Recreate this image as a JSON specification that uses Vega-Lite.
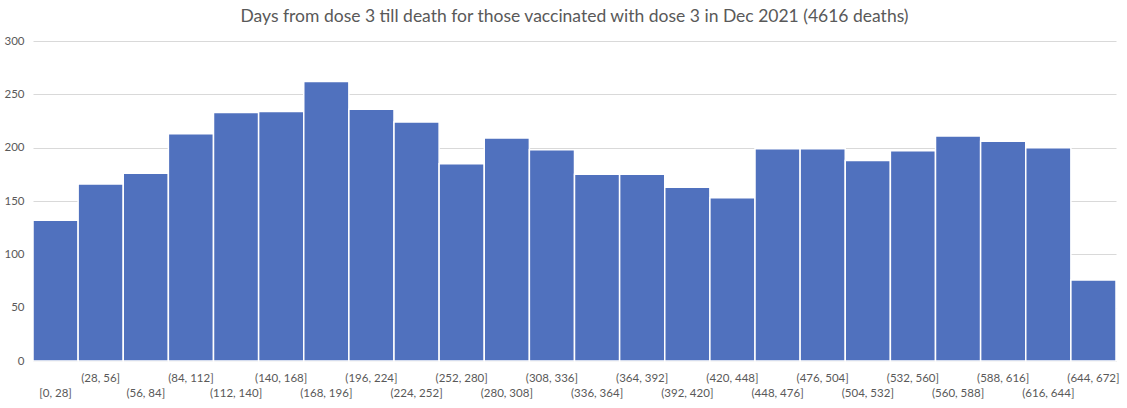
{
  "$schema": "https://vega.github.io/schema/vega-lite/v6.json",
  "autosize": {"type": "none"},
  "padding": {"left": 33, "top": 41, "right": 11, "bottom": 47},
  "width": 1083,
  "height": 320,
  "background": "white",
  "title": {
    "text": "Days from dose 3 till death for those vaccinated with dose 3 in Dec  2021 (4616 deaths)",
    "font": "Lato",
    "fontSize": 17.5,
    "fontWeight": "normal",
    "color": "#595959",
    "anchor": "middle",
    "offset": 10
  },
  "config": {
    "view": {"stroke": null},
    "axis": {"labelFont": "Lato", "labelColor": "#595959", "titleFont": "Lato"}
  },
  "data": {
    "values": [
      {"bin": "[0, 28]", "order": 0, "deaths": 132},
      {"bin": "(28, 56]", "order": 1, "deaths": 166},
      {"bin": "(56, 84]", "order": 2, "deaths": 176},
      {"bin": "(84, 112]", "order": 3, "deaths": 213},
      {"bin": "(112, 140]", "order": 4, "deaths": 233},
      {"bin": "(140, 168]", "order": 5, "deaths": 234},
      {"bin": "(168, 196]", "order": 6, "deaths": 262},
      {"bin": "(196, 224]", "order": 7, "deaths": 236},
      {"bin": "(224, 252]", "order": 8, "deaths": 224},
      {"bin": "(252, 280]", "order": 9, "deaths": 185},
      {"bin": "(280, 308]", "order": 10, "deaths": 209},
      {"bin": "(308, 336]", "order": 11, "deaths": 198},
      {"bin": "(336, 364]", "order": 12, "deaths": 175},
      {"bin": "(364, 392]", "order": 13, "deaths": 175},
      {"bin": "(392, 420]", "order": 14, "deaths": 163},
      {"bin": "(420, 448]", "order": 15, "deaths": 153},
      {"bin": "(448, 476]", "order": 16, "deaths": 199},
      {"bin": "(476, 504]", "order": 17, "deaths": 199},
      {"bin": "(504, 532]", "order": 18, "deaths": 188},
      {"bin": "(532, 560]", "order": 19, "deaths": 197},
      {"bin": "(560, 588]", "order": 20, "deaths": 211},
      {"bin": "(588, 616]", "order": 21, "deaths": 206},
      {"bin": "(616, 644]", "order": 22, "deaths": 200},
      {"bin": "(644, 672]", "order": 23, "deaths": 76}
    ]
  },
  "mark": {"type": "bar", "color": "#5071BE", "stroke": "white", "strokeWidth": 1.5},
  "encoding": {
    "x": {
      "field": "bin",
      "type": "ordinal",
      "sort": {"field": "order"},
      "scale": {"paddingInner": 0, "paddingOuter": 0},
      "axis": {
        "title": null,
        "labelAngle": 0,
        "labelFontSize": 11.5,
        "labelPadding": 11,
        "labelLineHeight": 15,
        "labelExpr": "(toNumber(substring(datum.value, 1, indexof(datum.value, ','))) / 28) % 2 == 0 ? ['', datum.value] : datum.value",
        "ticks": false,
        "domain": true,
        "domainColor": "#D9D9D9",
        "labelOverlap": false
      }
    },
    "y": {
      "field": "deaths",
      "type": "quantitative",
      "scale": {"domain": [0, 300]},
      "axis": {
        "title": null,
        "values": [0, 50, 100, 150, 200, 250, 300],
        "labelFontSize": 11.5,
        "labelPadding": 9,
        "ticks": false,
        "domain": false,
        "gridColor": "#D9D9D9",
        "gridWidth": 1
      }
    }
  }
}
